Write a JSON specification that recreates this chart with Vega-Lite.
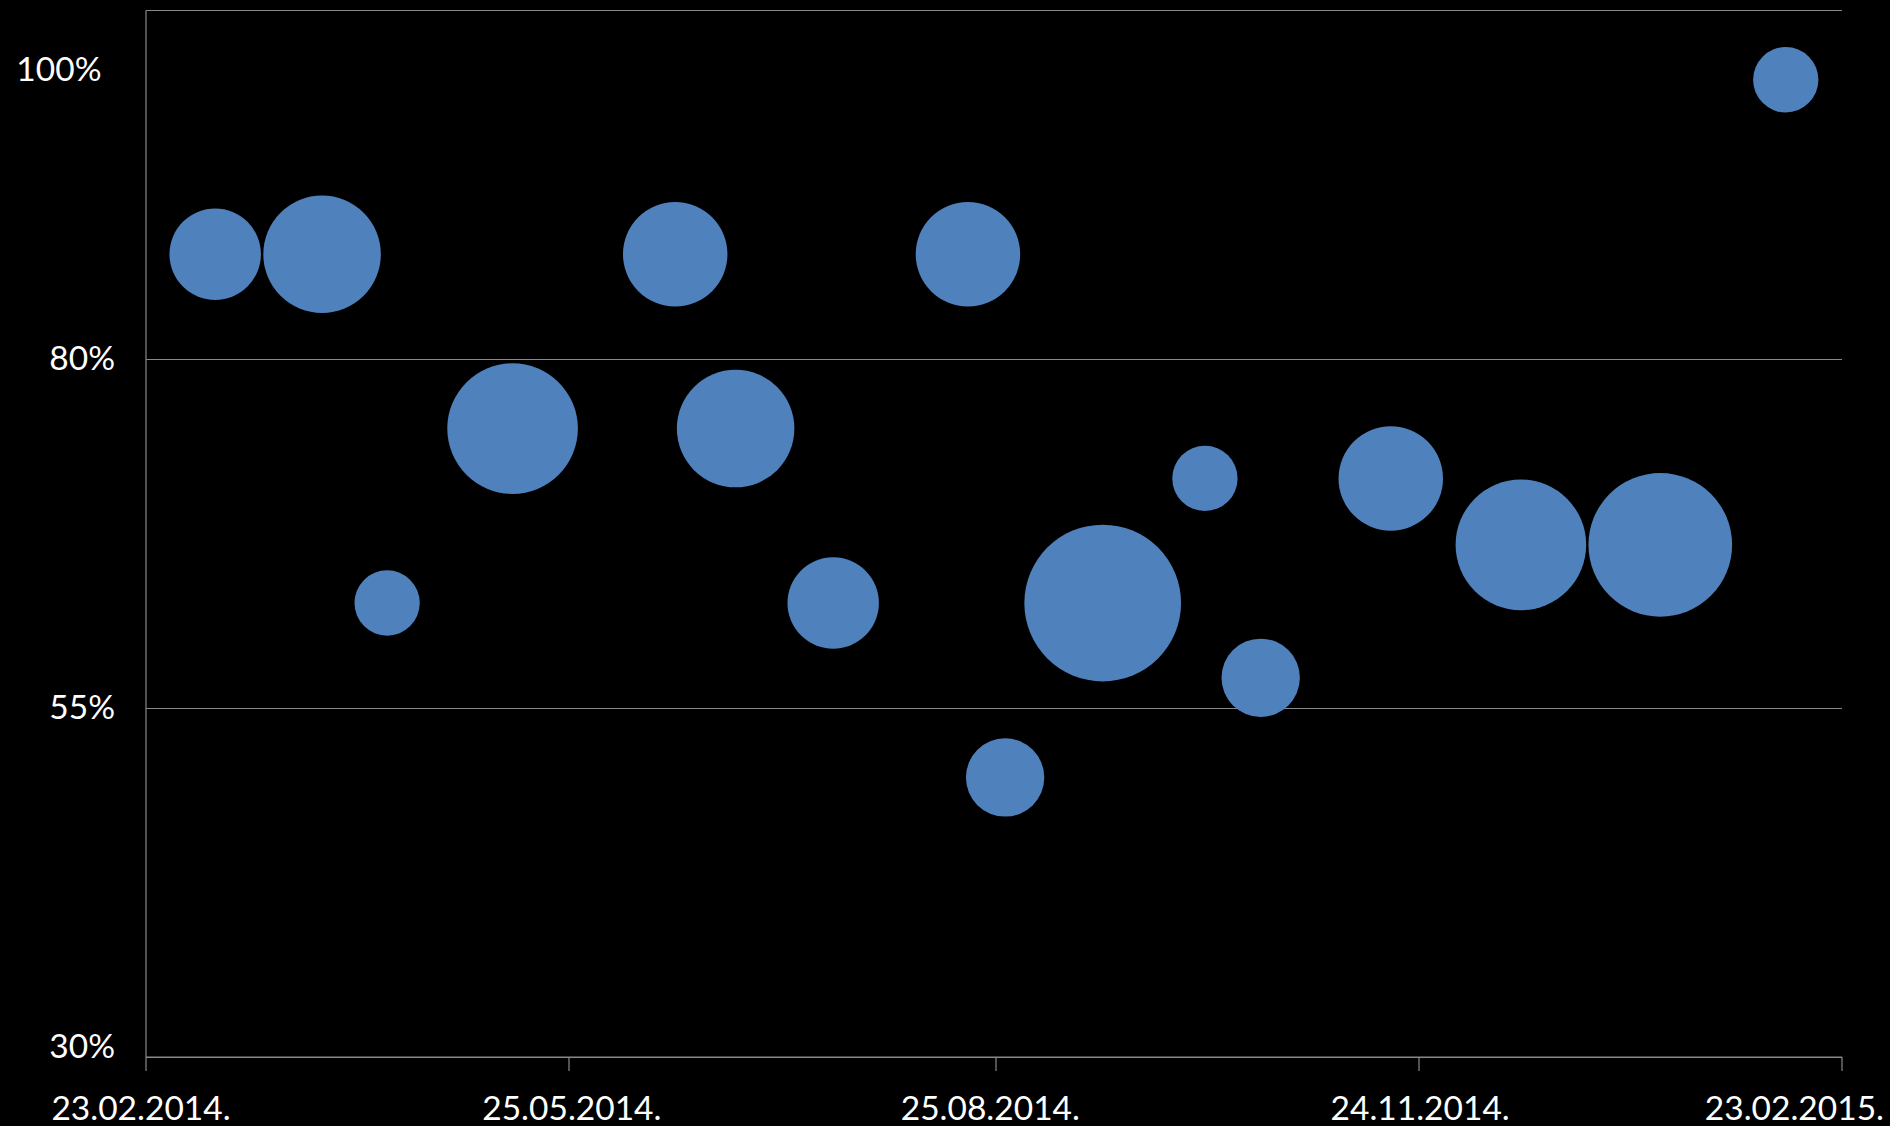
{
  "$schema": "https://vega.github.io/schema/vega-lite/v6.json",
  "width": 1696,
  "height": 1046.5,
  "autosize": {"type": "none"},
  "padding": {"left": 145.5, "top": 10, "right": 48.5, "bottom": 69.5},
  "background": "#000000",
  "config": {
    "view": {"stroke": null},
    "axis": {
      "labelFont": "Lato",
      "labelFontSize": 33.5,
      "labelColor": "#ffffff",
      "domainColor": "#898989",
      "tickColor": "#898989",
      "gridColor": "#898989",
      "domainWidth": 1.2,
      "tickWidth": 1.2,
      "gridWidth": 1.2,
      "title": null
    }
  },
  "data": {
    "values": [
      {"date": "2014-03-10", "share": 0.875, "n": 7},
      {"date": "2014-04-02", "share": 0.875, "n": 9},
      {"date": "2014-04-16", "share": 0.625, "n": 5},
      {"date": "2014-05-13", "share": 0.75, "n": 10},
      {"date": "2014-06-17", "share": 0.875, "n": 8},
      {"date": "2014-06-30", "share": 0.75, "n": 9},
      {"date": "2014-07-21", "share": 0.625, "n": 7},
      {"date": "2014-08-19", "share": 0.875, "n": 8},
      {"date": "2014-08-27", "share": 0.5, "n": 6},
      {"date": "2014-09-17", "share": 0.625, "n": 12},
      {"date": "2014-10-09", "share": 0.7143, "n": 5},
      {"date": "2014-10-21", "share": 0.5714, "n": 6},
      {"date": "2014-11-18", "share": 0.7143, "n": 8},
      {"date": "2014-12-16", "share": 0.6667, "n": 10},
      {"date": "2015-01-15", "share": 0.6667, "n": 11},
      {"date": "2015-02-11", "share": 1.0, "n": 5}
    ]
  },
  "mark": {"type": "circle", "opacity": 1, "color": "#4F81BD"},
  "encoding": {
    "x": {
      "field": "date",
      "type": "temporal",
      "scale": {
        "type": "utc",
        "domain": [
          {"year": 2014, "month": 2, "date": 23, "utc": true},
          {"year": 2015, "month": 2, "date": 23, "utc": true}
        ]
      },
      "axis": {
        "values": [
          {"year": 2014, "month": 2, "date": 23, "utc": true},
          {"year": 2014, "month": 5, "date": 25, "utc": true},
          {"year": 2014, "month": 8, "date": 25, "utc": true},
          {"year": 2014, "month": 11, "date": 24, "utc": true},
          {"year": 2015, "month": 2, "date": 23, "utc": true}
        ],
        "labelExpr": "utcFormat(datum.value, '%d.%m.%Y.')",
        "grid": false,
        "tickSize": 14,
        "labelPadding": 49,
        "labelBaseline": "alphabetic",
        "labelOverlap": false,
        "labelFlush": false,
        "labelAlign": {"condition": {"test": "datum.value > 1424000000000", "value": "right"}, "value": "center"},
        "labelOffset": {"condition": [
          {"test": "datum.value > 1424000000000", "value": 42},
          {"test": "datum.value < 1394000000000", "value": -5},
          {"test": "datum.value > 1400000000000 && datum.value < 1402000000000", "value": 3},
          {"test": "datum.value > 1408000000000 && datum.value < 1410000000000", "value": -6}
        ], "value": 1}
      }
    },
    "y": {
      "field": "share",
      "type": "quantitative",
      "scale": {"domain": [0.3, 1.05], "nice": false, "zero": false},
      "axis": {
        "values": [0.3, 0.55, 0.8, 1, 1.05],
        "labelExpr": "datum.value > 1.01 ? '' : format(datum.value, '.0%')",
        "ticks": false,
        "tickSize": 0,
        "labelPadding": {"condition": {"test": "datum.value > 0.99 && datum.value < 1.01", "value": 44.5}, "value": 31},
        "labelOffset": {"condition": {"test": "(datum.value > 0.99 && datum.value < 1.01) || datum.value < 0.31", "value": -9}, "value": 1},
        "grid": true,
        "gridOpacity": {"condition": {"test": "datum.value > 0.99 && datum.value < 1.01", "value": 0}, "value": 1},
        "domain": true,
        "labelBaseline": "middle",
        "labelOverlap": false,
        "labelFlush": false
      }
    },
    "size": {
      "field": "n",
      "type": "quantitative",
      "scale": {"type": "pow", "exponent": 2, "domain": [0, 12], "range": [0, 24562]},
      "legend": null
    }
  }
}
